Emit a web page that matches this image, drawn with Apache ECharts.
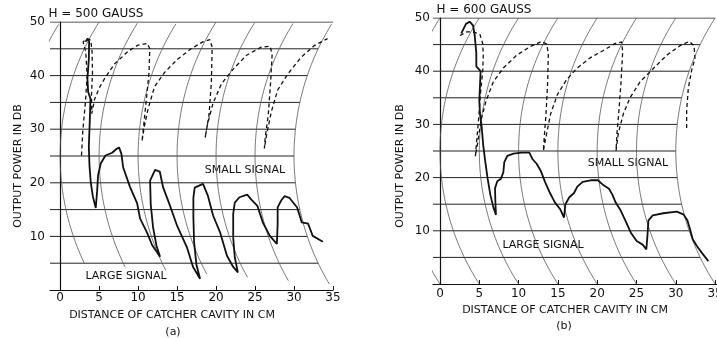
<!DOCTYPE html>
<html>
<head>
<meta charset="utf-8">
<script src="https://cdn.jsdelivr.net/npm/echarts@6/dist/echarts.min.js"></script>
<style>
  html, body { margin: 0; padding: 0; background: #fff; }
  #chart { width: 717px; height: 338px; }
</style>
</head>
<body>
<div id="chart"></div>
<script>
// tick labels / grid levels
const xTickValues = [0, 5, 10, 15, 20, 25, 30, 35];
const yLevels = [5, 10, 15, 20, 25, 30, 35, 40, 45, 50];
const arcValues = [0, 5, 10, 15, 20, 25, 30, 35];

// (a) H = 500 gauss [distance cm, dB]
const smallSignalA = [
  [2.74, 25.1], [2.91, 29.7], [3.25, 35.1], [3.46, 40.0], [3.29, 44.4], [2.95, 46.3], [3.5, 46.9],
  [3.93, 46.6], [4.1, 44.4], [4.15, 40.6], [4.02, 36.3], [4.06, 32.9], [4.44, 35.7], [5.09, 37.9],
  [5.81, 39.7], [7.0, 42.2], [8.7, 44.5], [10.0, 45.7], [11.2, 46.0], [11.5, 45.0], [11.4, 40.6],
  [11.07, 35.7], [10.73, 30.9], [10.5, 27.7], [10.77, 30.3], [11.3, 33.9], [12.1, 37.9], [13.4, 40.6],
  [15.1, 43.1], [16.8, 45.0], [18.3, 46.3], [19.2, 46.7], [19.5, 45.3], [19.4, 38.8], [19.1, 32.7],
  [18.6, 28.4], [18.9, 30.9], [19.6, 34.8], [20.7, 38.5], [22.2, 41.2], [23.9, 43.8], [25.8, 45.3],
  [26.9, 45.5], [27.2, 44.1], [27.0, 38.8], [26.7, 32.7], [26.3, 28.4], [26.2, 26.4], [26.5, 29.1],
  [27.1, 33.3], [27.9, 37.3], [29.2, 40.3], [30.9, 43.4], [32.6, 45.6], [34.3, 46.9]
];
const largeSignalA = [
  [3.25, 46.3], [3.5, 46.8], [3.72, 46.4], [3.68, 43.1], [3.5, 39.4], [3.59, 37.0], [3.89, 35.7],
  [3.8, 31.5], [3.68, 26.8], [3.76, 23.3], [3.93, 20.1], [4.19, 17.5], [4.57, 15.3], [4.74, 18.4],
  [4.87, 21.4], [5.21, 23.6], [5.81, 25.1], [6.67, 25.6], [7.22, 26.3], [7.56, 26.6], [7.86, 25.4],
  [8.08, 22.9], [8.97, 19.2], [9.87, 16.2], [10.26, 13.3], [11.15, 10.7], [11.79, 8.4], [12.82, 6.2],
  [12.35, 8.3], [11.92, 11.7], [11.62, 16.0], [11.54, 20.4], [12.18, 22.4], [12.78, 22.1], [13.2, 19.2],
  [14.1, 15.7], [15.0, 12.0], [16.28, 7.9], [17.05, 4.3], [17.95, 2.1], [17.48, 4.7], [17.18, 9.0],
  [17.09, 13.6], [17.09, 17.2], [17.26, 19.1], [18.33, 19.8], [18.97, 17.5], [19.62, 13.9], [20.5, 10.8],
  [21.4, 6.4], [22.2, 4.3], [22.8, 3.3], [22.4, 6.1], [22.2, 9.8], [22.2, 14.2], [22.4, 16.3],
  [23.0, 17.3], [24.0, 17.8], [24.5, 16.9], [25.3, 15.7], [26.0, 12.6], [26.9, 10.1], [27.8, 8.6],
  [27.9, 12.3], [27.9, 15.4], [28.4, 16.8], [28.8, 17.5], [29.4, 17.2], [30.4, 15.4], [31.0, 12.6],
  [31.8, 12.4], [32.4, 10.1], [33.7, 9.0]
];

// (b) H = 600 gauss
const smallSignalB = [
  [2.54, 46.7], [3.39, 47.4], [4.24, 47.4], [5.09, 46.9], [5.43, 45.2], [5.51, 43.0], [5.43, 39.9],
  [5.17, 36.2], [5.0, 32.6], [4.83, 29.6], [4.66, 26.8], [4.5, 24.0], [4.79, 26.5], [5.22, 30.8],
  [5.85, 34.4], [6.79, 38.0], [8.06, 40.6], [9.75, 43.0], [11.45, 44.6], [12.93, 45.6], [13.57, 45.1],
  [13.78, 43.3], [13.7, 38.0], [13.49, 32.0], [13.27, 27.7], [13.15, 25.0], [13.49, 27.7], [14.08, 32.0],
  [14.93, 35.6], [16.1, 38.4], [17.39, 40.5], [19.08, 42.5], [20.78, 43.9], [22.26, 45.2], [23.11, 45.5],
  [23.24, 43.6], [23.03, 38.0], [22.73, 32.0], [22.52, 28.4], [22.39, 25.0], [22.69, 28.4], [23.33, 32.0],
  [24.17, 35.0], [25.45, 38.0], [27.14, 40.5], [28.84, 43.0], [30.53, 44.8], [31.72, 45.6], [32.32, 44.8],
  [32.44, 42.4], [32.02, 40.2], [31.59, 36.8], [31.38, 32.6], [31.38, 29.3]
];
const largeSignalB = [
  [2.71, 47.1], [3.31, 48.9], [3.77, 49.3], [4.2, 48.6], [4.41, 46.8], [4.62, 43.4], [4.62, 40.9],
  [5.17, 40.0], [5.09, 37.4], [5.0, 34.4], [5.09, 32.0], [5.3, 29.6], [5.51, 25.9], [5.77, 22.9],
  [6.06, 19.8], [6.4, 16.8], [6.79, 14.4], [7.12, 13.0], [7.04, 15.6], [7.0, 18.0], [7.29, 19.3],
  [7.76, 19.8], [8.06, 21.0], [8.18, 22.9], [8.57, 24.1], [9.33, 24.5], [10.39, 24.7], [11.37, 24.7],
  [11.75, 23.5], [12.3, 22.6], [12.81, 21.3], [13.36, 19.2], [13.99, 17.1], [14.63, 15.3], [15.27, 14.1],
  [15.78, 12.5], [15.95, 15.0], [16.45, 16.3], [17.05, 17.1], [17.47, 18.3], [18.15, 19.2], [19.17, 19.5],
  [20.1, 19.5], [20.78, 18.6], [21.5, 17.9], [21.93, 16.8], [22.35, 15.3], [22.99, 13.8], [23.62, 11.8],
  [24.26, 9.7], [25.02, 8.1], [25.78, 7.4], [26.25, 6.5], [26.38, 8.8], [26.51, 11.9], [27.06, 12.9],
  [28.41, 13.3], [30.11, 13.6], [30.96, 13.1], [31.47, 12.0], [31.81, 10.3], [32.15, 8.4], [32.66, 7.2],
  [33.29, 5.9], [34.14, 4.3]
];

const FONT = 'DejaVu Sans';
const INK = '#111';

// recorder paper: constant-distance lines are circular arcs (pen swing)
const panels = [
  {
    grid: { left: 50, top: 22, width: 283, height: 268 },
    xMin: -1.3, xMax: 35, pxPerX: 7.8, pxPerY: 5.36,
    arcFoot: c => Math.max(1, 4.9 - (c - 5) * 0.127),
    labelMargin: 2, yLabelMargin: 5,
    small: smallSignalA, large: largeSignalA
  },
  {
    grid: { left: 433, top: 18, width: 284, height: 266 },
    xMin: -0.89, xMax: 35.24, pxPerX: 7.86, pxPerY: 5.31,
    arcFoot: () => 0,
    labelMargin: 4, yLabelMargin: 3,
    small: smallSignalB, large: largeSignalB
  }
];

function arcX(p, c, y) {
  const half = 25 * p.pxPerY;
  const sag = 5 * p.pxPerX;
  const R = (half * half + sag * sag) / (2 * sag);
  const dy = (y - 25) * p.pxPerY;
  return c - 5 + (R - Math.sqrt(R * R - dy * dy)) / p.pxPerX;
}

const grids = [], xAxes = [], yAxes = [], series = [];

panels.forEach((p, i) => {
  grids.push(Object.assign({ containLabel: false, outerBoundsMode: 'none' }, p.grid));
  xAxes.push({
    type: 'value', gridIndex: i, min: p.xMin, max: p.xMax,
    axisLine: { show: true, lineStyle: { color: INK, width: 1.2 } },
    axisTick: { show: true, inside: true, length: 4, customValues: xTickValues, lineStyle: { color: INK } },
    axisLabel: { customValues: xTickValues, color: INK, fontFamily: FONT, fontSize: 12, margin: p.labelMargin },
    splitLine: { show: false }
  });
  yAxes.push({
    type: 'value', gridIndex: i, min: 0, max: 50, interval: 10,
    axisLine: { show: true, lineStyle: { color: INK, width: 1.2 } },
    axisTick: { show: false },
    axisLabel: {
      color: INK, fontFamily: FONT, fontSize: 12, margin: p.yLabelMargin,
      formatter: v => (v === 0 ? '' : String(v))
    },
    splitLine: { show: false }
  });

  const base = { type: 'line', xAxisIndex: i, yAxisIndex: i, symbol: 'none', silent: true, animation: false, clip: true };

  // horizontal dB lines, ending at the outer arc
  yLevels.forEach(L => {
    series.push(Object.assign({}, base, {
      data: [[p.xMin, L], [arcX(p, 35, L), L]],
      lineStyle: { color: '#222', width: 1 }
    }));
  });

  // distance arcs
  arcValues.forEach(c => {
    const pts = [];
    for (let y = p.arcFoot(c); y <= 50.001; y += 0.5) pts.push([arcX(p, c, y), y]);
    series.push(Object.assign({}, base, {
      data: pts,
      lineStyle: { color: '#555', width: 0.8 }
    }));
  });

  series.push(Object.assign({}, base, {
    name: 'small signal', data: p.small,
    lineStyle: { color: INK, width: 1.3, type: [4, 3] }
  }));
  series.push(Object.assign({}, base, {
    name: 'large signal', data: p.large,
    lineStyle: { color: INK, width: 1.8 }
  }));
});

function txt(x, y, text, size, rotation) {
  return {
    type: 'text', x, y, rotation: rotation || 0, silent: true,
    style: {
      text, fill: INK, font: (size || 11) + 'px "' + FONT + '"',
      align: 'center', verticalAlign: 'middle'
    }
  };
}

const chart = echarts.init(document.getElementById('chart'), null, { renderer: 'canvas' });
chart.setOption({
  animation: false,
  backgroundColor: '#fff',
  grid: grids,
  xAxis: xAxes,
  yAxis: yAxes,
  series,
  graphic: [
    txt(96, 14, 'H = 500 GAUSS', 12),
    txt(484, 10, 'H = 600 GAUSS', 12),
    txt(18, 166, 'OUTPUT POWER IN DB', 11, Math.PI / 2),
    txt(400, 166, 'OUTPUT POWER IN DB', 11, Math.PI / 2),
    txt(172, 315, 'DISTANCE OF CATCHER CAVITY IN CM'),
    txt(565, 310, 'DISTANCE OF CATCHER CAVITY IN CM'),
    txt(173, 332, '(a)'),
    txt(564, 326, '(b)'),
    txt(245, 170, 'SMALL SIGNAL'),
    txt(628, 163, 'SMALL SIGNAL'),
    txt(126, 276, 'LARGE SIGNAL'),
    txt(543, 245, 'LARGE SIGNAL')
  ]
});
</script>
</body>
</html>
